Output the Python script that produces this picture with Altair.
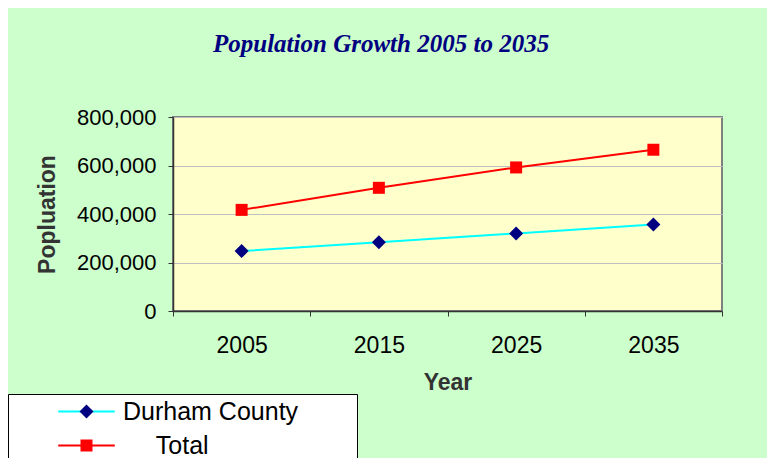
import altair as alt
import pandas as pd

years = ["2005", "2015", "2025", "2035"]
durham = [247000, 284000, 320000, 357000]
total = [417000, 508000, 592000, 665000]
series_names = ["Durham County", "Total"]
y_ticks = [0, 200000, 400000, 600000, 800000]

rows = []
for i, yr in enumerate(years):
    rows.append({"Year": yr, "Series": series_names[0], "Population": durham[i]})
    rows.append({"Year": yr, "Series": series_names[1], "Population": total[i]})
df = pd.DataFrame(rows)

NB = "\u00a0"
ZW = "\u200b"
TH = "\u2009"
label_expr = ("datum.label == 'Total' ? '" + ZW + NB * 4 + TH + "Total' : datum.label + '"
              + NB * 7 + TH + ZW + "'")

x_enc = alt.X(
    "Year:O",
    scale=alt.Scale(type="band", paddingInner=0, paddingOuter=0),
    axis=alt.Axis(title="Year", labelAngle=0, tickBand="extent", grid=False,
                  labelPadding=18, titlePadding=14),
)
y_enc = alt.Y(
    "Population:Q",
    scale=alt.Scale(domain=[0, 800000]),
    axis=alt.Axis(title="Popluation", values=y_ticks, format=",.0f", grid=True,
                  labelPadding=12, titlePadding=17),
)

line_legend = alt.Legend(
    orient="none", legendX=-165, legendY=277, title=None,
    symbolType="M-4,0H4", symbolSize=200, symbolStrokeWidth=2,
    labelFontSize=25, labelFont="Liberation Sans", labelColor="black",
    labelLimit=600, labelExpr=label_expr, symbolOffset=61, labelOffset=24,
    padding=5, rowPadding=8, fillColor="white", strokeColor="black",
)

marker_legend = alt.Legend(
    orient="none", legendX=-165, legendY=277, title=None,
    symbolStrokeWidth=0, symbolOpacity=1,
    labelFontSize=25, labelFont="Liberation Sans", labelOpacity=0,
    labelLimit=600, labelExpr=label_expr, symbolOffset=61, labelOffset=24,
    padding=5, rowPadding=8,
)

lines = alt.Chart(df).mark_line(strokeWidth=2).encode(
    x=x_enc, y=y_enc,
    color=alt.Color("Series:N",
                    scale=alt.Scale(domain=series_names, range=["#00ffff", "#ff0000"]),
                    legend=line_legend),
)

points = alt.Chart(df).mark_point(filled=True, opacity=1).encode(
    x=x_enc, y=y_enc,
    fill=alt.Fill("Series:N", scale=alt.Scale(range=["#000080", "#ff0000"]), legend=marker_legend),
    shape=alt.Shape("Series:N", scale=alt.Scale(range=["diamond", "square"]), legend=marker_legend),
    size=alt.Size("Series:N", scale=alt.Scale(range=[196, 144]), legend=marker_legend),
)

chart = alt.layer(lines, points).properties(
    width=549, height=194,
    autosize=alt.AutoSizeParams(type="none"),
    padding={"left": 165, "top": 109, "right": 45, "bottom": 147},
    background="#ccffcc",
    title=alt.TitleParams(
        "Population Growth 2005 to 2035",
        font="Liberation Serif", fontSize=25, fontWeight="bold", fontStyle="italic",
        color="#000080", anchor="start", frame="group", dx=40, offset=49,
    ),
).configure_view(
    fill="#ffffcc", stroke="#808080", strokeWidth=2,
).configure_axis(
    labelFont="Liberation Sans", labelFontSize=23, labelColor="black",
    titleFont="Liberation Sans", titleFontSize=23, titleFontWeight="bold", titleColor="#333333",
    domainColor="#333333", domainWidth=1.5, tickColor="#333333", tickSize=5,
    gridColor="#c0c0c0", gridWidth=1,
).configure_axisY(
    labelFontSize=22,
)

chart.save("out.html", embed_options={"renderer": "svg", "actions": False})
